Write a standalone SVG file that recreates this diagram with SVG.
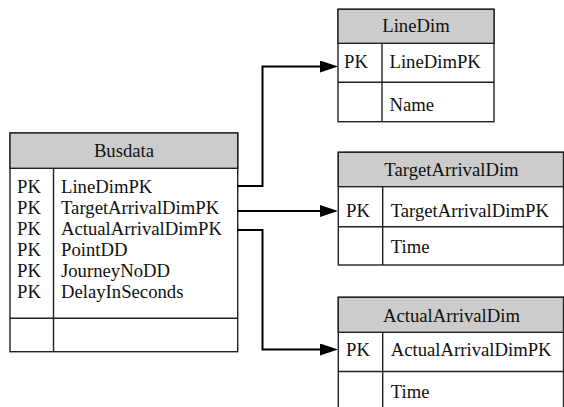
<svg xmlns="http://www.w3.org/2000/svg" width="564" height="407" viewBox="0 0 564 407" font-family="'Liberation Serif', 'DejaVu Serif', serif">
<style>
  text { font-family: "Liberation Serif", "DejaVu Serif", serif; font-size: 18.7px; fill: #111; }
  .hdr { fill: #cccccc; stroke: #222; stroke-width: 1.4; }
  .box { fill: #ffffff; stroke: #222; stroke-width: 1.4; }
  .ln { stroke: #222; stroke-width: 1.4; fill: none; }
  .mid { text-anchor: middle; }
  .conn { stroke: #000; stroke-width: 2; fill: none; }
</style>
<defs>
  <marker id="arr" markerUnits="userSpaceOnUse" markerWidth="18" markerHeight="12" refX="1" refY="6" orient="auto">
    <path d="M0,0 L18,6 L0,12 z" fill="#000"/>
  </marker>
</defs>

<g id="Busdata">
  <rect class="box" x="10" y="133" width="227.7" height="218.7"/>
  <rect class="hdr" x="10" y="133" width="227.7" height="35.3"/>
  <line class="ln" x1="53.5" y1="168.3" x2="53.5" y2="351.7"/>
  <line class="ln" x1="10" y1="318.3" x2="237.7" y2="318.3"/>
  <text class="mid" x="124" y="156.7">Busdata</text>
  <text x="17" y="193">PK</text><text x="61" y="193">LineDimPK</text>
  <text x="17" y="214">PK</text><text x="61" y="214">TargetArrivalDimPK</text>
  <text x="17" y="235">PK</text><text x="61" y="235">ActualArrivalDimPK</text>
  <text x="17" y="256">PK</text><text x="61" y="256">PointDD</text>
  <text x="17" y="277">PK</text><text x="61" y="277">JourneyNoDD</text>
  <text x="17" y="298">PK</text><text x="61" y="298">DelayInSeconds</text>
</g>

<g id="LineDim">
  <rect class="box" x="338" y="9.3" width="156" height="112.4"/>
  <rect class="hdr" x="338" y="9.3" width="156" height="34"/>
  <line class="ln" x1="382" y1="43.3" x2="382" y2="121.7"/>
  <line class="ln" x1="338" y1="82.3" x2="494" y2="82.3"/>
  <text class="mid" x="416" y="32.3">LineDim</text>
  <text x="344" y="67.7">PK</text><text x="389.5" y="67.7">LineDimPK</text>
  <text x="389.5" y="110.7">Name</text>
</g>

<g id="TargetArrivalDim">
  <rect class="box" x="338.3" y="152.3" width="225.2" height="112.7"/>
  <rect class="hdr" x="338.3" y="152.3" width="225.2" height="34.4"/>
  <line class="ln" x1="382.7" y1="186.7" x2="382.7" y2="265"/>
  <line class="ln" x1="338.3" y1="226.7" x2="563.5" y2="226.7"/>
  <text class="mid" x="451.5" y="175.7">TargetArrivalDim</text>
  <text x="346" y="217.3">PK</text><text x="390.7" y="217.3">TargetArrivalDimPK</text>
  <text x="390.7" y="253.3">Time</text>
</g>

<g id="ActualArrivalDim">
  <rect class="box" x="338.3" y="297.3" width="225.2" height="114"/>
  <rect class="hdr" x="338.3" y="297.3" width="225.2" height="35"/>
  <line class="ln" x1="382.7" y1="332.3" x2="382.7" y2="411.3"/>
  <line class="ln" x1="338.3" y1="371.5" x2="563.5" y2="371.5"/>
  <text class="mid" x="451.5" y="321.7">ActualArrivalDim</text>
  <text x="346" y="355.7">PK</text><text x="390.7" y="355.7">ActualArrivalDimPK</text>
  <text x="390.7" y="398.3">Time</text>
</g>

<g id="connectors">
  <path class="conn" d="M237.7,186 H262.5 V66.5 H321" marker-end="url(#arr)"/>
  <path class="conn" d="M237.7,211 H321" marker-end="url(#arr)"/>
  <path class="conn" d="M237.7,230 H262.5 V349.5 H321" marker-end="url(#arr)"/>
</g>
</svg>
